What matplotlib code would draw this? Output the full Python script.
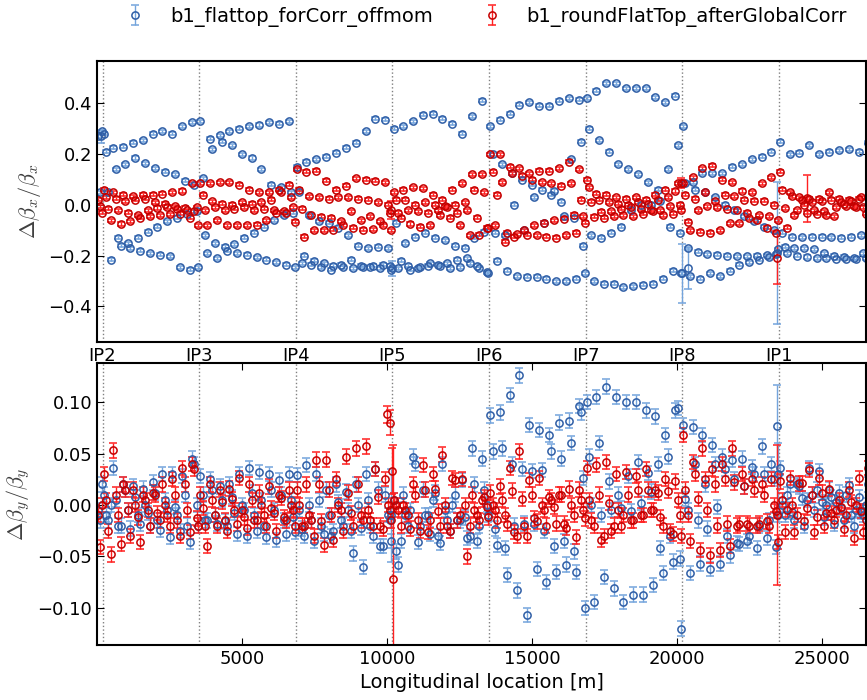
import numpy as np
import matplotlib.pyplot as plt

# ring layout
circumference = 26659.0
ip_names = ['IP2', 'IP3', 'IP4', 'IP5', 'IP6', 'IP7', 'IP8', 'IP1']
ip_s = [190, 3522, 6855, 10187, 13520, 16852, 20173, 23516]

# BPM offsets from the IP that starts each octant [m]
bpm_offset = [40, 120, 200, 280, 365, 450, 535, 620, 705, 790,
              875, 960, 1045, 1130, 1215, 1300, 1385, 1470, 1555, 1640,
              1725, 1810, 1895, 1980, 2065, 2150, 2235, 2320, 2405, 2490,
              2575, 2660, 2745, 2830, 2915, 3000, 3085, 3170, 3245, 3300]

# beta-beating per octant, 4 interleaved BPM families of 10 BPMs each
bx_flattop = [
    [[0.28, 0.225, 0.23, 0.245, 0.255, 0.28, 0.29, 0.28, 0.31, 0.325],
     [0.21, 0.14, 0.16, 0.185, 0.165, 0.145, 0.13, 0.12, 0.095, 0.08],
     [0.05, -0.13, -0.15, -0.13, -0.105, -0.085, -0.065, -0.05, -0.035, -0.025],
     [-0.215, -0.16, -0.17, -0.18, -0.19, -0.197, -0.203, -0.245, -0.255, -0.245]],
    [[0.33, 0.26, 0.275, 0.29, 0.30, 0.31, 0.315, 0.325, 0.32, 0.33],
     [0.105, 0.22, 0.25, 0.235, 0.20, 0.185, 0.14, 0.08, 0.07, 0.05],
     [-0.12, -0.15, -0.165, -0.155, -0.13, -0.11, -0.085, -0.06, -0.04, -0.03],
     [-0.19, -0.21, -0.18, -0.19, -0.197, -0.207, -0.215, -0.225, -0.235, -0.245]],
    [[0.15, 0.17, 0.18, 0.19, 0.205, 0.225, 0.245, 0.29, 0.34, 0.335],
     [0.05, -0.04, -0.065, -0.07, -0.09, -0.12, -0.16, -0.17, -0.165, -0.17],
     [-0.23, -0.235, -0.245, -0.255, -0.235, -0.215, -0.24, -0.245, -0.25, -0.24],
     [-0.2, -0.22, -0.23, -0.24, -0.245, -0.25, -0.245, -0.24, -0.235, -0.255]],
    [[0.3, 0.31, 0.33, 0.355, 0.36, 0.34, 0.32, 0.28, 0.35, 0.41],
     [-0.07, -0.15, -0.125, -0.11, -0.13, -0.14, -0.16, -0.168, -0.13, -0.105],
     [-0.25, -0.24, -0.25, -0.24, -0.235, -0.23, -0.215, -0.21, -0.24, -0.265],
     [-0.22, -0.255, -0.245, -0.23, -0.24, -0.25, -0.245, -0.23, -0.25, -0.27]],
    [[0.31, 0.335, 0.36, 0.395, 0.405, 0.39, 0.39, 0.41, 0.42, 0.415],
     [0.2, 0.16, 0.125, 0.1, 0.08, 0.06, 0.04, 0.013, 0.18, 0.25],
     [-0.11, -0.12, 0.0, -0.1, 0.03, -0.07, 0.055, -0.045, -0.05, -0.16],
     [-0.22, -0.26, -0.28, -0.283, -0.283, -0.29, -0.3, -0.3, -0.29, -0.27]],
    [[0.42, 0.45, 0.48, 0.48, 0.46, 0.46, 0.46, 0.425, 0.405, 0.43],
     [0.3, 0.255, 0.21, 0.16, 0.14, 0.12, 0.09, 0.06, 0.14, 0.235],
     [-0.12, -0.13, -0.11, -0.085, -0.02, 0.0, 0.0, 0.015, -0.085, -0.11],
     [-0.3, -0.31, -0.31, -0.325, -0.32, -0.315, -0.31, -0.29, -0.26, -0.27]],
    [[0.31, 0.09, 0.125, 0.125, 0.125, 0.15, 0.16, 0.18, 0.19, 0.21],
     [0.085, 0.06, 0.05, 0.03, 0.0, -0.02, -0.045, -0.065, -0.085, -0.1],
     [-0.17, -0.185, -0.195, -0.197, -0.2, -0.203, -0.203, -0.2, -0.198, -0.195],
     [-0.28, -0.29, -0.27, -0.28, -0.26, -0.235, -0.225, -0.215, -0.205, -0.175]],
    [[0.25, 0.2, 0.205, 0.235, 0.2, 0.21, 0.215, 0.22, 0.21, 0.245],
     [-0.11, -0.125, -0.128, -0.125, -0.125, -0.128, -0.13, -0.125, -0.12, 0.27],
     [-0.165, -0.17, -0.17, -0.175, -0.19, -0.2, -0.205, -0.21, -0.19, 0.05],
     [-0.19, -0.2, -0.205, -0.21, -0.21, -0.212, -0.212, -0.212, -0.21, 0.29]],
]

bx_afterglobal = [
    [[0.06, 0.05, 0.04, 0.035, 0.04, 0.04, 0.045, 0.05, 0.055, 0.085],
     [0.03, 0.025, 0.015, 0.02, 0.025, 0.01, 0.005, -0.005, -0.012, -0.025],
     [-0.015, -0.02, -0.03, -0.04, -0.02, -0.012, -0.008, -0.015, -0.02, -0.01],
     [-0.06, -0.075, -0.065, -0.05, -0.045, -0.04, -0.037, -0.035, -0.05, -0.08]],
    [[0.085, 0.085, 0.09, 0.09, 0.08, 0.06, 0.05, 0.05, 0.06, 0.08],
     [0.04, 0.015, 0.005, 0.0, 0.01, 0.005, 0.01, 0.02, 0.05, 0.03],
     [-0.02, -0.01, -0.02, -0.015, -0.01, -0.02, -0.015, -0.02, -0.025, -0.01],
     [-0.08, -0.06, -0.08, -0.08, -0.08, -0.078, -0.06, -0.03, -0.03, -0.066]],
    [[0.14, 0.13, 0.135, 0.095, 0.06, 0.075, 0.105, 0.1, 0.095, 0.09],
     [0.06, 0.035, 0.03, 0.025, 0.03, 0.03, 0.024, 0.02, 0.01, 0.0],
     [-0.015, -0.04, -0.046, -0.05, -0.065, -0.025, -0.06, -0.045, -0.065, -0.03],
     [-0.125, -0.1, -0.1, -0.098, -0.08, -0.09, -0.098, -0.095, -0.08, -0.1]],
    [[0.05, 0.06, 0.07, 0.066, 0.04, 0.02, 0.06, 0.085, 0.12, 0.12],
     [0.02, 0.02, 0.0, 0.01, 0.0, -0.005, 0.0, 0.01, 0.06, 0.05],
     [-0.03, -0.02, -0.025, -0.03, -0.02, -0.01, -0.03, -0.02, -0.05, -0.09],
     [-0.05, -0.075, -0.085, -0.08, -0.04, -0.05, -0.08, -0.12, -0.118, -0.09]],
    [[0.2, 0.2, 0.15, 0.145, 0.125, 0.135, 0.135, 0.145, 0.17, 0.14],
     [0.13, 0.09, 0.125, 0.115, 0.1, 0.09, 0.085, 0.075, 0.085, 0.02],
     [-0.08, -0.145, -0.125, -0.1, -0.08, -0.07, -0.06, -0.055, -0.038, -0.045],
     [0.04, -0.11, -0.115, -0.118, -0.12, -0.125, -0.13, -0.12, -0.11, -0.07]],
    [[0.1, 0.045, 0.04, 0.03, 0.025, 0.03, 0.02, 0.04, 0.06, 0.055],
     [0.07, 0.02, 0.01, 0.005, 0.0, 0.01, 0.005, 0.02, 0.03, 0.085],
     [0.013, -0.026, -0.025, -0.015, -0.01, -0.015, -0.02, -0.02, -0.005, 0.0],
     [-0.046, -0.05, -0.045, -0.04, -0.045, -0.035, -0.025, -0.04, -0.035, -0.02]],
    [[0.085, 0.11, 0.145, 0.155, 0.1, 0.09, 0.055, 0.05, 0.085, 0.11],
     [0.04, 0.025, 0.05, 0.015, 0.04, 0.035, 0.02, 0.017, 0.017, 0.0],
     [-0.066, -0.02, -0.005, -0.01, -0.015, -0.02, -0.03, -0.06, -0.09, -0.11],
     [-0.1, -0.105, -0.11, -0.1, -0.072, -0.072, -0.052, -0.04, -0.045, -0.06]],
    [[0.13, 0.05, 0.03, 0.025, 0.025, 0.05, 0.025, 0.02, 0.025, 0.03],
     [0.06, 0.035, 0.02, 0.01, 0.015, 0.02, 0.01, 0.015, 0.03, 0.02],
     [-0.013, -0.04, 0.0, -0.02, -0.025, -0.045, 0.005, -0.005, -0.01, -0.005],
     [-0.09, -0.02, -0.03, -0.035, -0.04, -0.01, -0.005, -0.01, -0.035, -0.03]],
]

by_flattop = [
    [[0.01, 0.036, 0.02, 0.018, 0.016, 0.022, 0.03, 0.03, 0.028, 0.045],
     [-0.01, 0.005, 0.015, 0.008, 0.0, 0.012, 0.005, -0.002, 0.01, 0.04],
     [-0.015, -0.02, -0.005, -0.01, -0.008, -0.015, -0.005, -0.01, -0.02, 0.0],
     [0.0, -0.02, -0.023, -0.018, -0.02, -0.024, -0.031, -0.025, -0.036, -0.02]],
    [[0.028, 0.025, 0.018, 0.02, 0.03, 0.036, 0.032, 0.03, 0.024, 0.03],
     [0.01, 0.015, 0.005, 0.008, 0.0, 0.012, 0.005, 0.015, 0.01, 0.005],
     [-0.015, -0.01, -0.016, -0.008, -0.005, -0.01, -0.02, -0.005, -0.015, -0.012],
     [-0.015, -0.018, -0.02, -0.028, -0.03, -0.025, -0.031, -0.034, -0.028, -0.026]],
    [[0.029, 0.039, 0.03, 0.015, 0.02, 0.013, 0.02, 0.03, 0.035, 0.01],
     [-0.005, 0.0, 0.005, -0.01, 0.003, -0.005, 0.0, 0.005, 0.015, -0.01],
     [-0.023, -0.015, -0.02, -0.03, -0.015, -0.025, -0.022, -0.02, -0.04, -0.015],
     [-0.03, -0.035, -0.028, -0.025, -0.02, -0.047, -0.06, -0.03, -0.04, -0.035]],
    [[0.005, 0.01, 0.047, 0.015, 0.005, 0.04, 0.0, 0.024, 0.055, 0.045],
     [-0.045, -0.01, 0.04, -0.01, 0.012, -0.005, 0.01, -0.012, 0.02, 0.015],
     [-0.058, -0.02, -0.036, -0.01, -0.03, -0.015, -0.015, -0.032, -0.035, 0.0],
     [-0.035, -0.005, -0.02, -0.028, -0.037, -0.025, -0.015, -0.03, -0.02, -0.01]],
    [[0.087, 0.09, 0.107, 0.126, 0.078, 0.073, 0.068, 0.08, 0.082, 0.096],
     [0.052, 0.055, 0.04, 0.035, 0.033, 0.034, 0.052, 0.045, 0.06, 0.09],
     [-0.023, -0.042, -0.02, -0.018, -0.018, -0.025, -0.04, -0.035, -0.045, 0.026],
     [-0.039, -0.068, -0.083, -0.107, -0.062, -0.075, -0.065, -0.058, -0.065, -0.1]],
    [[0.1, 0.105, 0.115, 0.105, 0.1, 0.1, 0.092, 0.086, 0.068, 0.092],
     [0.047, 0.06, 0.023, 0.01, 0.028, 0.042, 0.031, 0.04, 0.047, 0.094],
     [0.0, -0.01, -0.005, -0.003, -0.006, 0.002, 0.013, -0.042, -0.03, -0.052],
     [-0.094, -0.07, -0.081, -0.094, -0.087, -0.087, -0.078, -0.066, -0.055, -0.12]],
    [[0.078, 0.076, 0.068, 0.058, 0.047, 0.044, 0.045, 0.037, 0.057, 0.04],
     [0.006, 0.04, 0.02, 0.04, 0.035, 0.025, 0.018, 0.03, 0.03, 0.025],
     [-0.005, -0.015, -0.023, -0.002, -0.03, -0.037, -0.035, -0.042, -0.032, -0.041],
     [-0.066, -0.057, -0.062, -0.057, -0.049, -0.038, -0.03, -0.02, -0.015, -0.01]],
    [[0.036, 0.02, 0.018, 0.036, 0.033, 0.015, 0.012, 0.019, 0.008, 0.02],
     [0.0, -0.007, 0.007, 0.01, 0.003, 0.008, -0.003, -0.01, -0.007, -0.005],
     [-0.01, -0.015, -0.02, -0.005, -0.012, -0.018, -0.015, -0.02, -0.01, -0.015],
     [0.01, 0.02, 0.005, 0.015, 0.0, 0.003, 0.01, -0.005, 0.0, 0.02]],
]

by_afterglobal = [
    [[0.03, 0.053, 0.02, 0.015, 0.01, 0.012, 0.02, 0.025, 0.036, 0.04],
     [0.005, 0.01, 0.015, 0.0, 0.005, 0.01, 0.0, 0.01, 0.02, 0.035],
     [-0.025, -0.01, -0.005, -0.012, -0.005, -0.008, -0.01, -0.015, -0.005, -0.013],
     [-0.048, -0.038, -0.03, -0.036, -0.02, -0.015, -0.02, -0.03, -0.026, -0.02]],
    [[0.01, 0.02, 0.015, 0.016, 0.026, 0.02, 0.012, 0.018, 0.01, 0.015],
     [-0.003, 0.005, 0.003, 0.006, -0.005, 0.005, 0.0, -0.003, 0.007, 0.0],
     [-0.02, -0.01, -0.015, -0.005, -0.012, -0.015, -0.01, -0.008, -0.012, -0.005],
     [-0.04, -0.02, -0.025, -0.018, -0.022, -0.015, -0.02, -0.025, -0.015, -0.02]],
    [[0.015, 0.02, 0.044, 0.044, 0.025, 0.047, 0.055, 0.057, 0.035, 0.025],
     [0.0, -0.01, 0.02, 0.015, 0.0, 0.012, 0.02, -0.005, 0.008, 0.0],
     [-0.02, -0.015, -0.016, -0.01, -0.005, -0.008, -0.01, -0.015, -0.02, -0.005],
     [-0.02, -0.03, -0.039, -0.034, -0.025, -0.02, -0.015, -0.02, -0.023, -0.015]],
    [[0.005, 0.0, 0.02, 0.039, 0.03, 0.049, 0.026, 0.025, 0.01, 0.005],
     [0.0, -0.005, 0.01, 0.015, 0.016, 0.0, 0.024, 0.0, -0.005, 0.008],
     [-0.005, -0.01, -0.015, -0.026, -0.006, -0.02, -0.015, -0.05, -0.01, -0.002],
     [-0.02, -0.023, -0.025, -0.015, -0.02, -0.025, -0.01, -0.02, -0.015, -0.012]],
    [[0.012, 0.018, 0.036, 0.052, 0.024, 0.026, 0.008, 0.01, 0.016, 0.015],
     [0.0, 0.005, 0.014, 0.006, 0.01, 0.0, 0.005, 0.01, 0.0, 0.005],
     [-0.005, -0.01, -0.026, -0.02, -0.013, -0.005, -0.002, -0.018, -0.01, -0.005],
     [-0.015, -0.018, -0.03, -0.03, -0.016, -0.02, -0.018, -0.022, -0.031, -0.013]],
    [[0.036, 0.039, 0.042, 0.03, 0.032, 0.028, 0.035, 0.015, 0.025, 0.023],
     [0.005, 0.01, 0.002, -0.005, 0.01, 0.015, 0.015, 0.012, 0.014, 0.005],
     [-0.015, -0.034, -0.025, -0.02, -0.015, -0.01, -0.005, -0.012, -0.025, -0.01],
     [-0.02, -0.03, -0.02, -0.01, -0.015, -0.01, -0.005, -0.02, -0.028, -0.03]],
    [[0.068, 0.042, 0.055, 0.035, 0.04, 0.055, 0.03, 0.025, 0.02, 0.025],
     [0.015, 0.03, 0.025, 0.02, 0.025, 0.022, 0.018, 0.015, 0.01, 0.0],
     [-0.01, 0.006, -0.005, -0.02, -0.018, -0.02, -0.018, -0.02, -0.016, -0.006],
     [-0.035, -0.044, -0.049, -0.044, -0.04, -0.018, -0.02, -0.018, -0.02, -0.036]],
    [[0.023, 0.026, 0.021, 0.034, 0.026, 0.016, 0.005, 0.015, 0.026, 0.036],
     [0.005, 0.0, 0.021, 0.01, 0.012, -0.008, -0.002, 0.003, -0.006, -0.01],
     [-0.026, -0.026, -0.016, -0.026, -0.02, -0.015, -0.023, -0.032, -0.026, -0.041],
     [-0.005, -0.01, -0.003, -0.012, -0.008, -0.005, -0.01, 0.0, -0.015, 0.0]],
]

# typical measurement error
err_x = 0.006
err_y = 0.007

# BPMs close to the IPs with large errors: s [m], value, error
bx_flattop_ir_s = [23440, 20165, 20383, 150, 10180]
bx_flattop_ir_val = [-0.19, -0.27, -0.25, 0.27, -0.25]
bx_flattop_ir_err = [0.28, 0.115, 0.08, 0.025, 0.03]
bx_afterglobal_ir_s = [23439, 24473, 20130, 10148]
bx_afterglobal_ir_val = [-0.21, 0.026, 0.085, -0.02]
bx_afterglobal_ir_err = [0.1, 0.092, 0.02, 0.035]
by_flattop_ir_s = [10150, 23440, 23470]
by_flattop_ir_val = [-0.01, 0.077, 0.03]
by_flattop_ir_err = [0.045, 0.04, 0.03]
by_afterglobal_ir_s = [10000, 10110, 10170, 10190, 23450]
by_afterglobal_ir_val = [0.088, 0.08, 0.033, -0.072, -0.01]
by_afterglobal_ir_err = [0.008, 0.012, 0.022, 0.13, 0.068]


def ring_positions(octants, err, ir_s, ir_val, ir_err):
    s, y = [], []
    for ip, families in zip(ip_s, octants):
        for k, fam in enumerate(families):
            for j, val in enumerate(fam):
                s.append((ip + bpm_offset[k + 4 * j]) % circumference)
                y.append(val)
    e = [err] * len(y)
    return np.array(s + ir_s), np.array(y + ir_val), np.array(e + ir_err)


plt.rcParams['font.family'] = ['DejaVu Sans']
plt.rcParams['mathtext.fontset'] = 'cm'
plt.rcParams['xtick.direction'] = 'in'
plt.rcParams['ytick.direction'] = 'in'
plt.rcParams['xtick.top'] = True
plt.rcParams['ytick.right'] = True
plt.rcParams['xtick.major.size'] = 5
plt.rcParams['ytick.major.size'] = 5
plt.rcParams['axes.linewidth'] = 1.5

blue_kw = dict(fmt='o', ms=5.2, mfc='none', mec='#2f5ea6', mew=1.1,
               ecolor='#74a4dc', elinewidth=1.0, capsize=2.7, capthick=1.0)
red_kw = dict(fmt='o', ms=5.2, mfc='none', mec='#c40000', mew=1.1,
              ecolor='#ff2020', elinewidth=1.0, capsize=2.7, capthick=1.0)

fig = plt.figure(figsize=(8.67, 7.0), dpi=100)
ax1 = fig.add_axes([0.1119, 0.5114, 0.8870, 0.4014])
ax2 = fig.add_axes([0.1119, 0.0786, 0.8870, 0.4029])

s, y, e = ring_positions(bx_flattop, err_x, bx_flattop_ir_s, bx_flattop_ir_val, bx_flattop_ir_err)
h1 = ax1.errorbar(s, y, yerr=e, label='b1_flattop_forCorr_offmom', **blue_kw)
s, y, e = ring_positions(bx_afterglobal, err_x, bx_afterglobal_ir_s, bx_afterglobal_ir_val, bx_afterglobal_ir_err)
h2 = ax1.errorbar(s, y, yerr=e, label='b1_roundFlatTop_afterGlobalCorr', **red_kw)

s, y, e = ring_positions(by_flattop, err_y, by_flattop_ir_s, by_flattop_ir_val, by_flattop_ir_err)
ax2.errorbar(s, y, yerr=e, **blue_kw)
s, y, e = ring_positions(by_afterglobal, err_y, by_afterglobal_ir_s, by_afterglobal_ir_val, by_afterglobal_ir_err)
ax2.errorbar(s, y, yerr=e, **red_kw)

for ax in (ax1, ax2):
    for ip in ip_s:
        ax.axvline(ip, color='0.5', ls=':', lw=1, zorder=0)
    ax.set_xlim(0, 26520)
    ax.tick_params(labelsize=13)

ax1.set_ylim(-0.54, 0.567)
ax1.set_xticks(ip_s)
ax1.set_xticklabels(ip_names)
ax1.tick_params(axis='x', length=0)
ax1.set_yticks([-0.4, -0.2, 0.0, 0.2, 0.4])
ax1.set_ylabel(r'$\Delta\beta_x/\beta_x$', fontsize=16, color='0.25')

ax2.set_ylim(-0.136, 0.138)
ax2.set_xticks([5000, 10000, 15000, 20000, 25000])
ax2.set_yticks([-0.10, -0.05, 0.0, 0.05, 0.10])
ax2.set_ylabel(r'$\Delta\beta_y/\beta_y$', fontsize=16, color='0.25')
ax2.set_xlabel('Longitudinal location [m]', fontsize=14)

ax1.legend(handles=[h1, h2], loc='center', bbox_to_anchor=(0.5, 1.157),
           ncol=2, frameon=False, fontsize=14, numpoints=1,
           columnspacing=2.0, handletextpad=0.8)

fig.savefig('out.png', dpi=100)
